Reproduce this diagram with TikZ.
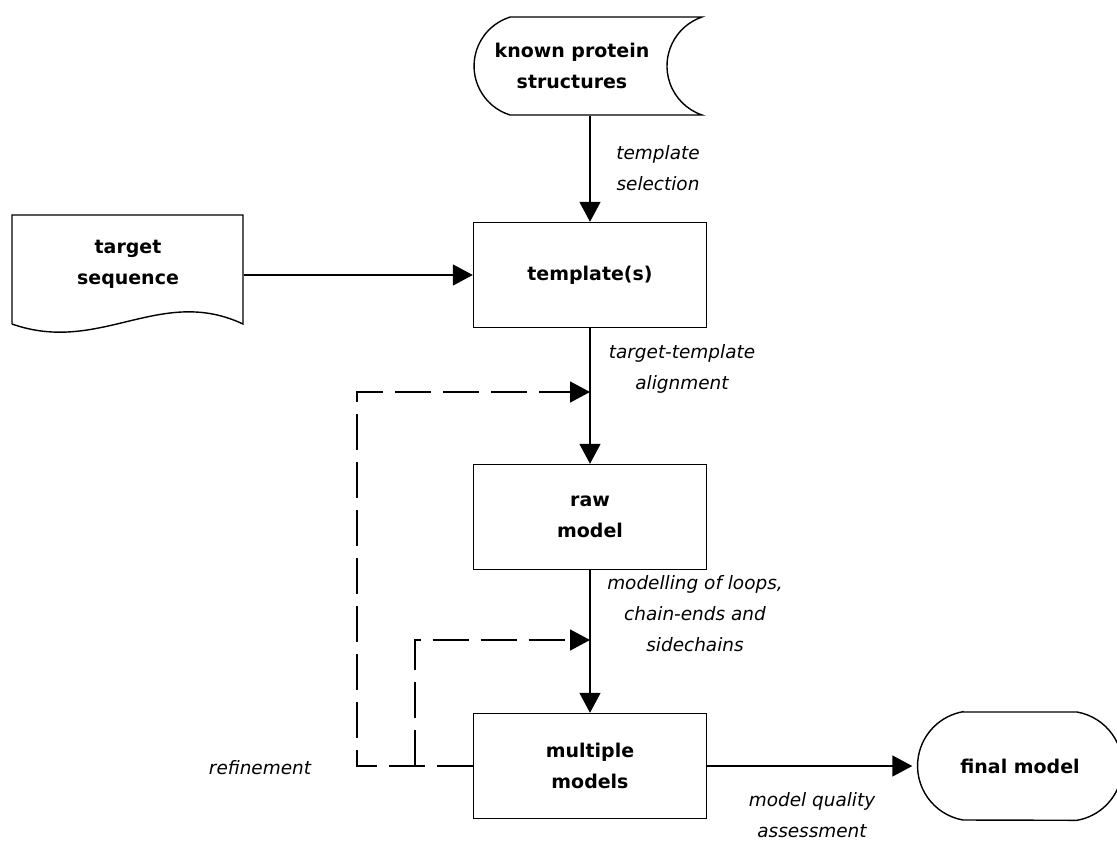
\documentclass[tikz,border=0pt]{standalone}
\usepackage{fontspec}
\setmainfont{DejaVu Sans}
\usetikzlibrary{arrows.meta}

\begin{document}
\begin{tikzpicture}[x=0.02cm, y=-0.02cm, line width=0.8pt,
                    box/.style={draw, minimum width=4.66cm, minimum height=2.1cm, align=center,
                                font=\fontsize{10.8}{17.6}\selectfont\bfseries},
                    shapebox/.style={minimum width=#1, align=center,
                                     font=\fontsize{10.8}{17.6}\selectfont\bfseries},
                    steplabel/.style={align=center, font=\fontsize{10.5}{17.6}\selectfont\itshape},
                    flow/.style={-{Triangle[length=0.4cm,width=0.42cm]}},
                    feedback/.style={flow, dash pattern=on 0.72cm off 0.24cm}]
  \useasboundingbox (0,0) rectangle (1117,843);

  \node[shapebox=3.8cm, minimum height=1.96cm] (known) at (572,66) {known protein\\structures};
  \draw (510,17) -- (702,17) arc[start angle=108.9, end angle=251.1, radius=1.036cm]
    -- (510,115) arc[start angle=252.6, end angle=107.4, radius=1.026cm] -- cycle;

  \node[shapebox=4.62cm, minimum height=2.2cm] (target) at (128,264) {target\\sequence};
  \draw (12,324) -- (12,215) -- (243,215) -- (243,324)
    .. controls (160,285) and (100,355) .. (12,324);

  \node[box] (tmpl) at (590,275) {template(s)};
  \node[box] (raw) at (590,517) {raw\\model};
  \node[box] (multi) at (590,766) {multiple\\models};

  \node[shapebox=4.28cm, minimum height=2.16cm] (final) at (1020,766) {final model};
  \draw (963,712) -- (1077,712) arc[start angle=80, end angle=-80, radius=1.1cm]
    -- (963,820) arc[start angle=260, end angle=100, radius=1.1cm] -- cycle;

  \coordinate (fb1) at (590,392);
  \coordinate (fb2) at (590,640);
  \coordinate (loop1) at (357,392);
  \coordinate (loop2) at (415,766);

  \draw[flow] (tmpl.north |- known.south) -- (tmpl.north);
  \draw[flow] (target.east |- tmpl.west) -- (tmpl.west);
  \draw[flow] (tmpl) -- (raw);
  \draw[flow] (raw) -- (multi);
  \draw[flow] (multi) -- (final);
  \draw[feedback] (multi.west) -| (loop1) -- (fb1);
  \draw[feedback] (loop2) |- (fb2);

  \node[steplabel] (selection) at (658,168) {template\\selection};
  \node[steplabel] (alignment) at (682,369) {target-template\\alignment};
  \node[steplabel] (loops) at (695,614) {modelling of loops,\\chain-ends and\\sidechains};
  \node[steplabel] (quality) at (812,815) {model quality\\assessment};
  \node[steplabel] (refine) at (260,768) {refinement};
\end{tikzpicture}
\end{document}
